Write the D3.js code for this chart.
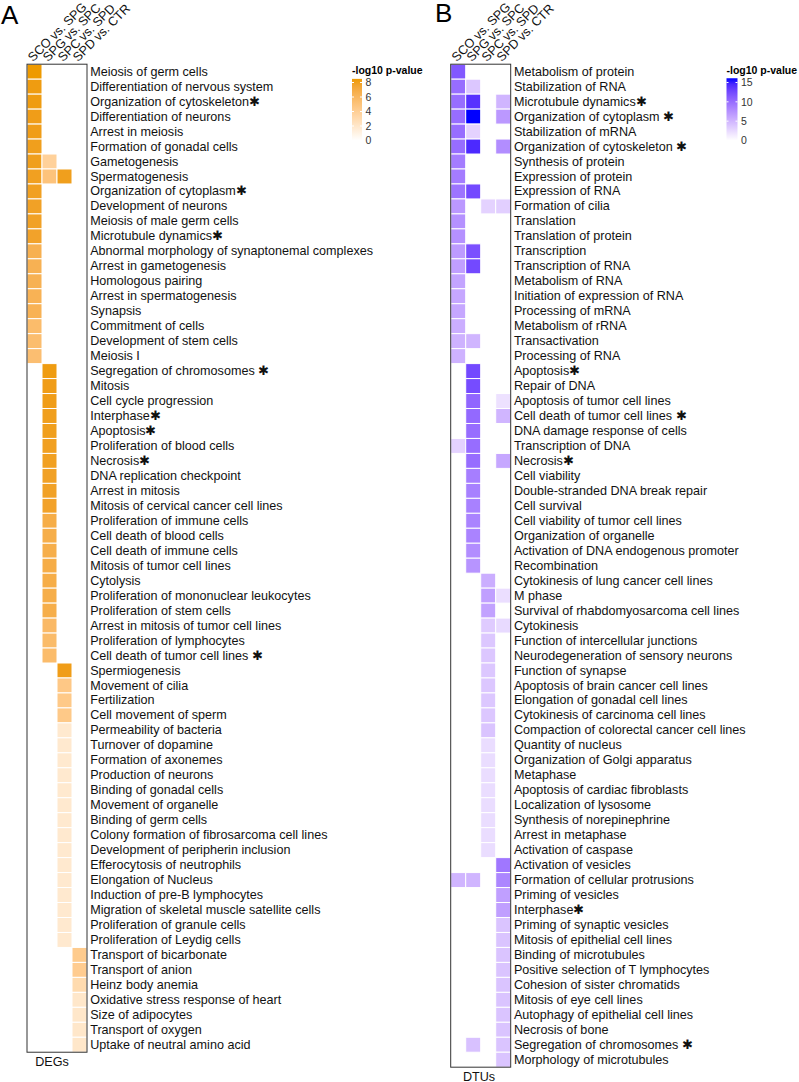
<html>
<head>
  <script src="https://d3js.org/d3.v7.min.js"></script>
  <style>
    body { margin: 0; background: #fff; }
    text { font-family: "Liberation Sans", Arial, sans-serif; }
  </style>
</head>
<body>
  <div id="chart"></div>
  <script>

    // Comparisons (columns of both heatmaps)
    var columns = ["SCO vs. SPG", "SPG vs. SPC", "SPC vs. SPD", "SPD vs. CTR"];

    // Panel A: functions enriched in DEGs
    var degTerms = [
      "Meiosis of germ cells", "Differentiation of nervous system", "Organization of cytoskeleton\u2731",
      "Differentiation of neurons", "Arrest in meiosis", "Formation of gonadal cells", "Gametogenesis",
      "Spermatogenesis", "Organization of cytoplasm\u2731", "Development of neurons",
      "Meiosis of male germ cells", "Microtubule dynamics\u2731",
      "Abnormal morphology of synaptonemal complexes", "Arrest in gametogenesis", "Homologous pairing",
      "Arrest in spermatogenesis", "Synapsis", "Commitment of cells", "Development of stem cells",
      "Meiosis I", "Segregation of chromosomes \u2731", "Mitosis", "Cell cycle progression",
      "Interphase\u2731", "Apoptosis\u2731", "Proliferation of blood cells", "Necrosis\u2731",
      "DNA replication checkpoint", "Arrest in mitosis", "Mitosis of cervical cancer cell lines",
      "Proliferation of immune cells", "Cell death of blood cells", "Cell death of immune cells",
      "Mitosis of tumor cell lines", "Cytolysis", "Proliferation of mononuclear leukocytes",
      "Proliferation of stem cells", "Arrest in mitosis of tumor cell lines", "Proliferation of lymphocytes",
      "Cell death of tumor cell lines \u2731", "Spermiogenesis", "Movement of cilia", "Fertilization",
      "Cell movement of sperm", "Permeability of bacteria", "Turnover of dopamine", "Formation of axonemes",
      "Production of neurons", "Binding of gonadal cells", "Movement of organelle", "Binding of germ cells",
      "Colony formation of fibrosarcoma cell lines", "Development of peripherin inclusion",
      "Efferocytosis of neutrophils", "Elongation of Nucleus", "Induction of pre-B lymphocytes",
      "Migration of skeletal muscle satellite cells", "Proliferation of granule cells",
      "Proliferation of Leydig cells", "Transport of bicarbonate", "Transport of anion",
      "Heinz body anemia", "Oxidative stress response of heart", "Size of adipocytes",
      "Transport of oxygen", "Uptake of neutral amino acid"
    ];
    var degValues = [
      [8.5, null, null, null], [8.3, null, null, null], [8.3, null, null, null], [8.2, null, null, null],
      [8.2, null, null, null], [8.1, null, null, null], [8.1, 3.8, null, null], [8.0, 5.0, 8.1, null],
      [8.0, null, null, null], [7.9, null, null, null], [7.9, null, null, null], [7.8, null, null, null],
      [6.6, null, null, null], [6.5, null, null, null], [6.5, null, null, null], [6.4, null, null, null],
      [6.4, null, null, null], [5.6, null, null, null], [5.5, null, null, null], [5.4, null, null, null],
      [null, 8.3, null, null], [null, 8.2, null, null], [null, 8.2, null, null], [null, 8.1, null, null],
      [null, 8.1, null, null], [null, 8.0, null, null], [null, 8.0, null, null], [null, 7.9, null, null],
      [null, 7.9, null, null], [null, 7.8, null, null], [null, 6.9, null, null], [null, 6.8, null, null],
      [null, 6.8, null, null], [null, 6.9, null, null], [null, 6.9, null, null], [null, 6.8, null, null],
      [null, 6.8, null, null], [null, 5.8, null, null], [null, 5.7, null, null], [null, 5.6, null, null],
      [null, null, 8.2, null], [null, null, 4.6, null], [null, null, 4.5, null], [null, null, 4.5, null],
      [null, null, 1.8, null], [null, null, 1.8, null], [null, null, 1.8, null], [null, null, 1.8, null],
      [null, null, 1.8, null], [null, null, 1.8, null], [null, null, 1.8, null], [null, null, 1.8, null],
      [null, null, 1.8, null], [null, null, 1.8, null], [null, null, 1.8, null], [null, null, 1.8, null],
      [null, null, 1.8, null], [null, null, 1.8, null], [null, null, 1.8, null],
      [null, null, null, 4.3], [null, null, null, 4.2], [null, null, null, 3.0], [null, null, null, 2.0],
      [null, null, null, 2.0], [null, null, null, 2.0], [null, null, null, 2.0]
    ];

    // Panel B: functions enriched in DTUs
    var dtuTerms = [
      "Metabolism of protein", "Stabilization of RNA", "Microtubule dynamics\u2731",
      "Organization of cytoplasm \u2731", "Stabilization of mRNA", "Organization of cytoskeleton \u2731",
      "Synthesis of protein", "Expression of protein", "Expression of RNA", "Formation of cilia",
      "Translation", "Translation of protein", "Transcription", "Transcription of RNA",
      "Metabolism of RNA", "Initiation of expression of RNA", "Processing of mRNA", "Metabolism of rRNA",
      "Transactivation", "Processing of RNA", "Apoptosis\u2731", "Repair of DNA",
      "Apoptosis of tumor cell lines", "Cell death of tumor cell lines \u2731", "DNA damage response of cells",
      "Transcription of DNA", "Necrosis\u2731", "Cell viability", "Double-stranded DNA break repair",
      "Cell survival", "Cell viability of tumor cell lines", "Organization of organelle",
      "Activation of DNA endogenous promoter", "Recombination", "Cytokinesis of lung cancer cell lines",
      "M phase", "Survival of rhabdomyosarcoma cell lines", "Cytokinesis",
      "Function of intercellular junctions", "Neurodegeneration of sensory neurons", "Function of synapse",
      "Apoptosis of brain cancer cell lines", "Elongation of gonadal cell lines",
      "Cytokinesis of carcinoma cell lines", "Compaction of colorectal cancer cell lines",
      "Quantity of nucleus", "Organization of Golgi apparatus", "Metaphase",
      "Apoptosis of cardiac fibroblasts", "Localization of lysosome", "Synthesis of norepinephrine",
      "Arrest in metaphase", "Activation of caspase", "Activation of vesicles",
      "Formation of cellular protrusions", "Priming of vesicles", "Interphase\u2731",
      "Priming of synaptic vesicles", "Mitosis of epithelial cell lines", "Binding of microtubules",
      "Positive selection of T lymphocytes", "Cohesion of sister chromatids", "Mitosis of eye cell lines",
      "Autophagy of epithelial cell lines", "Necrosis of bone", "Segregation of chromosomes \u2731",
      "Morphology of microtubules"
    ];
    var dtuValues = [
      [11.5, null, null, null], [10.0, 3.8, null, null], [10.0, 14.0, null, 5.0], [10.0, 16.1, null, 7.0],
      [10.0, 3.0, null, null], [10.0, 14.5, null, 7.8], [9.0, null, null, null], [9.0, null, null, null],
      [9.5, 12.5, null, null], [7.0, null, 3.0, 3.2], [7.5, null, null, null], [7.5, null, null, null],
      [6.8, 12.0, null, null], [6.5, 12.5, null, null], [6.2, null, null, null], [6.0, null, null, null],
      [6.0, null, null, null], [5.5, null, null, null], [5.2, 5.0, null, null], [5.2, null, null, null],
      [null, 12.5, null, null], [null, 12.3, null, null], [null, 10.5, null, 2.0], [null, 10.3, null, 5.0],
      [null, 10.0, null, null], [3.0, 10.0, null, null], [null, 10.0, null, 6.0], [null, 8.8, null, null],
      [null, 8.7, null, null], [null, 8.6, null, null], [null, 8.5, null, null], [null, 8.5, null, null],
      [null, 7.8, null, null], [null, 7.3, null, null], [null, null, 5.5, null], [null, null, 6.5, 2.2],
      [null, null, 6.3, null], [null, null, 3.5, 2.5], [null, null, 3.8, null], [null, null, 3.8, null],
      [null, null, 3.8, null], [null, null, 3.8, null], [null, null, 3.8, null], [null, null, 3.8, null],
      [null, null, 4.0, null], [null, null, 2.3, null], [null, null, 2.3, null], [null, null, 2.3, null],
      [null, null, 2.3, null], [null, null, 2.3, null], [null, null, 2.3, null], [null, null, 2.3, null],
      [null, null, 2.3, null], [null, null, null, 9.3], [5.0, 5.0, null, 8.3], [null, null, null, 6.5],
      [null, null, null, 6.5], [null, null, null, 4.0], [null, null, null, 4.0], [null, null, null, 4.0],
      [null, null, null, 4.0], [null, null, null, 4.0], [null, null, null, 4.0], [null, null, null, 4.0],
      [null, null, null, 4.0], [null, 4.2, null, 4.0], [null, null, null, 4.0]
    ];

    // Legend ticks
    var degTicks = [0, 2, 4, 6, 8];
    var dtuTicks = [0, 5, 10, 15];

    var rowH = 14.97, colW = 15, gridTop = 64.2;

    var svg = d3.select("#chart")
      .append("svg")
        .attr("width", 799)
        .attr("height", 1082);

    function drawPanel(opts) {
      var n = opts.terms.length;
      var x = d3.scaleBand().domain(columns).range([opts.left, opts.left + colW * columns.length]);
      var y = d3.scaleBand().domain(opts.terms).range([gridTop, gridTop + rowH * n]);
      var color = d3.scaleSequential(d3.interpolateLab("#ffffff", opts.hi)).domain([0, opts.max]);

      var cells = [];
      opts.values.forEach(function(row, i) {
        row.forEach(function(v, j) {
          if (v != null) cells.push({term: opts.terms[i], col: columns[j], value: v});
        });
      });

      var g = svg.append("g");

      g.selectAll("rect.tile")
        .data(cells)
        .join("rect")
          .attr("class", "tile")
          .attr("x", d => x(d.col))
          .attr("y", d => y(d.term))
          .attr("width", x.bandwidth())
          .attr("height", y.bandwidth())
          .attr("fill", d => color(d.value))
          .attr("stroke", "#fff")
          .attr("stroke-width", 1);

      // panel border
      g.append("rect")
        .attr("x", x.range()[0])
        .attr("y", y.range()[0])
        .attr("width", x.range()[1] - x.range()[0])
        .attr("height", y.range()[1] - y.range()[0])
        .attr("fill", "none")
        .attr("stroke", "#333")
        .attr("stroke-width", 1);

      // row labels
      var ya = g.append("g")
        .attr("transform", `translate(${x.range()[1]},0)`)
        .call(d3.axisRight(y).tickSize(0).tickPadding(3.2));
      ya.select(".domain").remove();
      ya.selectAll("text")
        .attr("font-size", 12.6)
        .attr("fill", "#111")
        .style("font-family", '"Liberation Sans", Arial, sans-serif');

      // column labels
      var xa = g.append("g")
        .attr("transform", `translate(0,${gridTop})`)
        .call(d3.axisTop(x).tickSize(0));
      xa.select(".domain").remove();
      xa.selectAll("text")
        .attr("x", null).attr("y", null).attr("dy", null)
        .attr("text-anchor", "start")
        .attr("transform", "translate(-1.5,-2) rotate(-45)")
        .attr("font-size", 12.6)
        .attr("fill", "#111")
        .style("font-family", '"Liberation Sans", Arial, sans-serif');

      // bottom title
      g.append("text")
        .attr("x", opts.titleX)
        .attr("y", y.range()[1] + 13.5)
        .attr("text-anchor", "middle")
        .attr("font-size", 12.6)
        .attr("fill", "#111")
        .text(opts.title);

      // panel letter
      g.append("text")
        .attr("x", opts.letterX)
        .attr("y", opts.letterY)
        .attr("font-size", 26)
        .attr("fill", "#000")
        .text(opts.letter);

      // legend
      var ly = d3.scaleLinear().domain([0, opts.lMax]).range([140.5, 82.5]);
      var lg = svg.append("g");
      var gid = "grad" + opts.letter;
      var grad = svg.append("defs").append("linearGradient")
        .attr("id", gid).attr("x1", 0).attr("y1", 1).attr("x2", 0).attr("y2", 0);
      d3.range(0, 1.0001, 0.1).forEach(function(t) {
        grad.append("stop").attr("offset", t).attr("stop-color", color(t * opts.max));
      });
      lg.append("rect")
        .attr("x", opts.legX)
        .attr("y", ly(opts.max))
        .attr("width", opts.legW)
        .attr("height", ly(0) - ly(opts.max))
        .attr("fill", `url(#${gid})`);
      lg.selectAll("line.tl")
        .data(opts.ticks.flatMap(t => [[t, 0], [t, 1]]))
        .join("line")
          .attr("x1", d => d[1] ? opts.legX + opts.legW - 2 : opts.legX)
          .attr("x2", d => d[1] ? opts.legX + opts.legW : opts.legX + 2)
          .attr("y1", d => ly(d[0]))
          .attr("y2", d => ly(d[0]))
          .attr("stroke", "#fff")
          .attr("stroke-width", 1);
      lg.selectAll("text.lab")
        .data(opts.ticks)
        .join("text")
          .attr("x", opts.legX + opts.legW + 3.5)
          .attr("y", d => ly(d))
          .attr("dy", "0.35em")
          .attr("font-size", 10.5)
          .attr("fill", "#333")
          .text(d => d);
      lg.append("text")
        .attr("x", opts.legX)
        .attr("y", 73.5)
        .attr("font-size", 10.5)
        .attr("font-weight", "bold")
        .attr("fill", "#000")
        .text("-log10 p-value");
    }

    drawPanel({
      terms: degTerms, values: degValues, left: 27, hi: "#EE9A00", max: 8.5, lMax: 8,
      ticks: degTicks, legX: 352, legW: 10, title: "DEGs", titleX: 52,
      letter: "A", letterX: 1, letterY: 23.5
    });
    drawPanel({
      terms: dtuTerms, values: dtuValues, left: 450.7, hi: "#0000FF", max: 16.1, lMax: 15,
      ticks: dtuTicks, legX: 726.5, legW: 11, title: "DTUs", titleX: 479,
      letter: "B", letterX: 435, letterY: 22
    });

  </script>
</body>
</html>
